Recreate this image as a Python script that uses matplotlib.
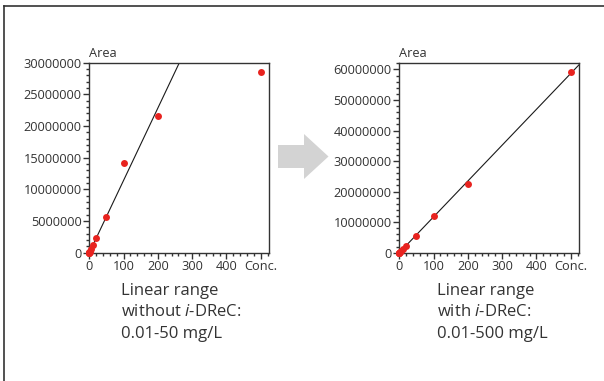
import numpy as np
import matplotlib
matplotlib.use("Agg")
import matplotlib.pyplot as plt
from matplotlib.lines import Line2D
from matplotlib.patches import Polygon
from matplotlib.ticker import MultipleLocator, FixedLocator, FixedFormatter

plt.rcParams['font.family'] = ['Open Sans', 'DejaVu Sans']
plt.rcParams['mathtext.fontset'] = 'custom'
plt.rcParams['mathtext.rm'] = 'Open Sans'
plt.rcParams['mathtext.it'] = 'Open Sans:italic'

# ---- data ----
conc = [0.01, 0.05, 0.1, 0.5, 1, 5, 10, 20, 50, 100, 200, 500]
area_without = [1.2e3, 6e3, 1.2e4, 6e4, 1.2e5, 6.0e5, 1.15e6, 2.3e6, 5.7e6, 14.1e6, 21.6e6, 28.5e6]
area_with = [1.2e3, 6e3, 1.2e4, 6e4, 1.2e5, 6.0e5, 1.2e6, 2.3e6, 5.6e6, 12.0e6, 22.6e6, 59.0e6]
linear_max_without = 50
linear_max_with = 500
x_ticks = [0, 100, 200, 300, 400, 500]
x_ticklabels = ["0", "100", "200", "300", "400", "Conc."]
y_ticks_without = [0, 5000000, 10000000, 15000000, 20000000, 25000000, 30000000]
y_ticks_with = [0, 10000000, 20000000, 30000000, 40000000, 50000000, 60000000]
captions_without = ["Linear range", "without $\\it{i}$-DReC:", "0.01-50 mg/L"]
captions_with = ["Linear range", "with $\\it{i}$-DReC:", "0.01-500 mg/L"]

W, H = 604, 381
fig = plt.figure(figsize=(W / 100, H / 100), dpi=100)
fig.patch.set_facecolor('white')

dark = '#333333'
red = '#e8231f'


def fx(px):
    return px / W


def fy(py):
    return (H - py) / H


def panel(left_px, conc, area, lin_max, yticks, ytop, ymin_step):
    ax = fig.add_axes([fx(left_px), fy(252.7), 180 / W, 190 / H])
    x = np.array(conc, dtype=float)
    y = np.array(area, dtype=float)
    m = x <= lin_max
    slope = np.sum(x[m] * y[m]) / np.sum(x[m] ** 2)
    xmax = 525
    xl = np.array([0, xmax * 1.2])
    ax.plot(xl, slope * xl, color='#1a1a1a', lw=0.8, zorder=2)
    ax.plot(x, y, 'o', color=red, ms=5, mec='none', zorder=3, clip_on=False)
    ax.set_xlim(0, xmax)
    ax.set_ylim(0, ytop)
    ax.xaxis.set_major_locator(FixedLocator(x_ticks))
    ax.xaxis.set_major_formatter(FixedFormatter(x_ticklabels))
    ax.xaxis.set_minor_locator(MultipleLocator(20))
    ax.yaxis.set_major_locator(FixedLocator(yticks))
    ax.yaxis.set_major_formatter(FixedFormatter([str(v) for v in yticks]))
    ax.yaxis.set_minor_locator(MultipleLocator(ymin_step))
    ax.tick_params(which='major', direction='out', length=4, width=1, color=dark,
                   labelsize=9.2, labelcolor=dark, pad=1.5)
    ax.tick_params(which='minor', direction='out', length=2, width=1, color=dark)
    for s in ax.spines.values():
        s.set_color(dark)
        s.set_linewidth(1)
    ax.text(0.0, 1.015, "Area", transform=ax.transAxes, ha='left', va='bottom',
            fontsize=9.2, color=dark)
    return ax


panel(89.3, conc, area_without, linear_max_without, y_ticks_without, 30e6, 1e6)
panel(399.3, conc, area_with, linear_max_with, y_ticks_with, 62.2e6, 2e6)

# captions
for xpx, lines in [(121, captions_without), (437, captions_with)]:
    for i, t in enumerate(lines):
        fig.text(fx(xpx), fy(291 + 21.5 * i), t, ha='left', va='center',
                 fontsize=12, color=dark)

# arrow
pts = [(278, 145), (304, 145), (304, 134), (328.5, 156.5), (304, 179),
       (304, 168), (278, 168)]
fig.add_artist(Polygon([(fx(a), fy(b)) for a, b in pts], closed=True,
                       transform=fig.transFigure, facecolor='#d3d3d3',
                       edgecolor='none'))

# frame lines
fig.add_artist(Line2D([fx(4), fx(4)], [0, fy(6)], transform=fig.transFigure,
                      color=dark, lw=1.2))
fig.add_artist(Line2D([fx(4), 1], [fy(6), fy(6)], transform=fig.transFigure,
                      color=dark, lw=1.2))

fig.savefig("out.png", dpi=100, facecolor='white')
